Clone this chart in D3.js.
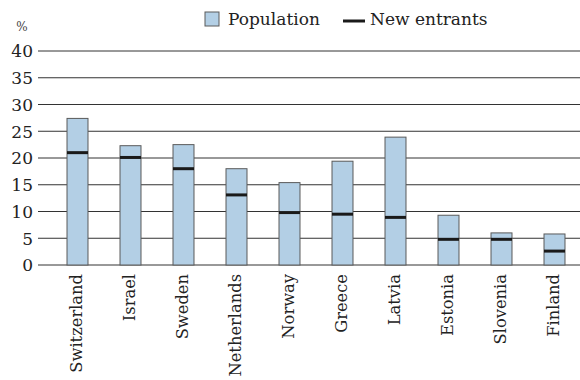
<!DOCTYPE html>
<html><head><meta charset="utf-8">
<script src="https://cdn.jsdelivr.net/npm/d3@7"></script>
<style>body{margin:0;background:#fff;} svg{display:block;}</style>
</head><body>
<svg id="c" width="580" height="380"></svg>
<script>
const categories = ["Switzerland","Israel","Sweden","Netherlands","Norway","Greece","Latvia","Estonia","Slovenia","Finland"];
const population = [27.4, 22.3, 22.5, 18.0, 15.4, 19.4, 23.9, 9.3, 6.0, 5.8];
const newEntrants = [21.0, 20.1, 18.0, 13.1, 9.8, 9.5, 8.9, 4.8, 4.8, 2.6];
const yTicks = [0,5,10,15,20,25,30,35,40];
const legendLabels = ["Population","New entrants"];

const font = "DejaVu Serif";
const svg = d3.select("#c");
const x = d3.scaleBand().domain(categories).range([51,581]).paddingInner(0.604).paddingOuter(0.302);
const y = d3.scaleLinear().domain([0,40]).range([265,51]);

// gridlines
svg.append("g").selectAll("line").data(yTicks).join("line")
  .attr("x1",38).attr("x2",580)
  .attr("y1",d=>y(d)).attr("y2",d=>y(d))
  .attr("stroke","#333").attr("stroke-width",1);

// y axis labels
const yAxis = d3.axisLeft(y).tickValues(yTicks).tickSize(0).tickPadding(5);
const gy = svg.append("g").attr("transform","translate(38,0)").call(yAxis);
gy.select(".domain").remove();
gy.selectAll("text").attr("font-family",font).attr("font-size",17).attr("fill","#222").attr("dy","0.35em");

svg.append("text").attr("x",22).attr("y",31).attr("text-anchor","middle")
  .attr("font-family",font).attr("font-size",12).attr("fill","#444").text("%");

// bars
svg.append("g").selectAll("rect").data(categories).join("rect")
  .attr("x",d=>x(d)).attr("width",x.bandwidth())
  .attr("y",(d,i)=>y(population[i])).attr("height",(d,i)=>y(0)-y(population[i]))
  .attr("fill","#b3cfe5").attr("stroke","#5a5a5a").attr("stroke-width",1);

// new entrants markers
svg.append("g").selectAll("line").data(categories).join("line")
  .attr("x1",d=>x(d)).attr("x2",d=>x(d)+x.bandwidth())
  .attr("y1",(d,i)=>y(newEntrants[i])).attr("y2",(d,i)=>y(newEntrants[i]))
  .attr("stroke","#1a1a1a").attr("stroke-width",3);

// x labels
const gx = svg.append("g").attr("transform","translate(0,265)")
  .call(d3.axisBottom(x).tickSize(0).tickPadding(0));
gx.select(".domain").remove();
gx.selectAll("text")
  .attr("font-family",font).attr("font-size",16.3).attr("fill","#222")
  .attr("text-anchor","end")
  .attr("transform","rotate(-90)")
  .attr("x",-9).attr("y",0).attr("dy","0.3em");

// legend
const lg = svg.append("g");
lg.append("rect").attr("x",205).attr("y",12).attr("width",14).attr("height",14)
  .attr("fill","#b3cfe5").attr("stroke","#5a5a5a");
lg.append("text").attr("x",228).attr("y",25).attr("font-family",font).attr("font-size",17)
  .attr("fill","#222").text(legendLabels[0]);
lg.append("line").attr("x1",343).attr("x2",365).attr("y1",21).attr("y2",21)
  .attr("stroke","#1a1a1a").attr("stroke-width",3);
lg.append("text").attr("x",370).attr("y",25).attr("font-family",font).attr("font-size",17)
  .attr("fill","#222").text(legendLabels[1]);
</script>
</body></html>
